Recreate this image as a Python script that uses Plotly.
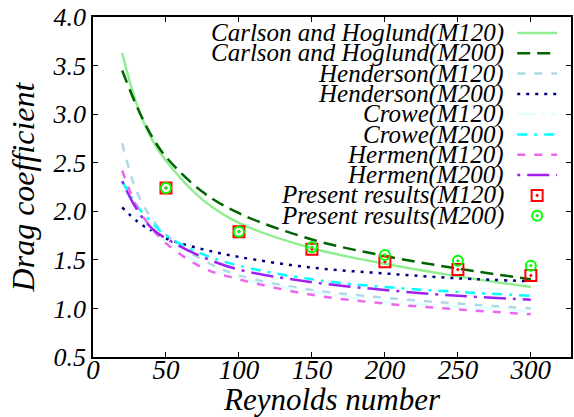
import plotly.graph_objects as go

re_grid = [20, 30, 40, 50, 75, 100, 150, 200, 250, 300]
carlson_m120 = [3.63, 3.10, 2.75, 2.52, 2.12, 1.88, 1.62, 1.46, 1.33, 1.22]
carlson_m200 = [3.45, 3.08, 2.78, 2.56, 2.20, 1.98, 1.71, 1.54, 1.41, 1.30]
henderson_m120 = [2.70, 2.20, 1.93, 1.76, 1.50, 1.34, 1.19, 1.11, 1.05, 1.00]
henderson_m200 = [2.04, 1.90, 1.80, 1.72, 1.61, 1.53, 1.42, 1.36, 1.31, 1.28]
crowe_m120 = [2.30, 2.00, 1.80, 1.68, 1.45, 1.31, 1.17, 1.07, 1.02, 0.97]
crowe_m200 = [2.31, 2.06, 1.89, 1.75, 1.56, 1.44, 1.30, 1.22, 1.17, 1.13]
hermen_m120 = [2.42, 2.05, 1.83, 1.67, 1.42, 1.30, 1.14, 1.05, 0.99, 0.94]
hermen_m200 = [2.31, 2.02, 1.83, 1.72, 1.53, 1.40, 1.27, 1.19, 1.13, 1.09]

re_present = [50, 100, 150, 200, 250, 300]
present_m120 = [2.24, 1.79, 1.61, 1.48, 1.40, 1.34]
present_m200 = [2.24, 1.79, 1.63, 1.55, 1.49, 1.44]

x_ticks = [0, 50, 100, 150, 200, 250, 300]
y_ticks = [0.5, 1.0, 1.5, 2.0, 2.5, 3.0, 3.5, 4.0]

FONT = "Liberation Serif"

lines = [
    ("Carlson and Hoglund(M120)", carlson_m120, "#90ee90", "solid"),
    ("Carlson and Hoglund(M200)", carlson_m200, "#006400", "13px,7px"),
    ("Henderson(M120)", henderson_m120, "#add8e6", "8px,9px"),
    ("Henderson(M200)", henderson_m200, "#000080", "3px,6px"),
    ("Crowe(M120)", crowe_m120, "#e0ffff", "18px,6px,3px,6px"),
    ("Crowe(M200)", crowe_m200, "#00ffff", "10px,7px,3px,7px"),
    ("Hermen(M120)", hermen_m120, "#ee66ee", "8px,9px"),
    ("Hermen(M200)", hermen_m200, "#a020f0", "3px,7px,22px,7px"),
]
markers = [
    ("Present results(M120)", present_m120, "#ff0000", "square-open-dot", 11),
    ("Present results(M200)", present_m200, "#00ff00", "circle-open-dot", 10),
]

fig = go.Figure()
for name, vals, color, dash in lines:
    fig.add_trace(go.Scatter(x=re_grid, y=vals, mode="lines", name=name,
                             line=dict(color=color, width=2.5, dash=dash, shape="spline"),
                             showlegend=False))
for name, vals, color, sym, size in markers:
    fig.add_trace(go.Scatter(x=re_present, y=vals, mode="markers", name=name,
                             marker=dict(color=color, symbol=sym, size=size,
                                         line=dict(color=color, width=2)),
                             showlegend=False))

# manual legend (text on left, sample on right) drawn on an overlay axis
L, R, T, B = 93, 1, 17, 60
W, H = 574, 417
pw, ph = W - L - R, H - T - B
def px2paper(xp, yp):
    return (xp - L) / pw, 1 - (yp - T) / ph

text_right = 508
row0, step = 33, 20.3
annotations = []
all_items = [(n, c, d, None, None) for n, _, c, d in lines] + [(n, c, None, s, z) for n, _, c, s, z in markers]
for i, (name, color, dash, sym, size) in enumerate(all_items):
    yp = row0 + step * i
    tx, ty = px2paper(text_right, yp)
    annotations.append(dict(x=tx, y=ty, xref="paper", yref="paper", text=name, showarrow=False,
                            xanchor="right", yanchor="middle",
                            font=dict(family=FONT, size=25, color="black", style="italic")))
    if dash is not None:
        x0, _ = px2paper(519, yp)
        x1, _ = px2paper(559, yp)
        fig.add_trace(go.Scatter(x=[x0, x1], y=[ty, ty], mode="lines", xaxis="x2", yaxis="y2",
                                 line=dict(color=color, width=2.5, dash=dash), showlegend=False,
                                 hoverinfo="skip"))
    else:
        xm, _ = px2paper(539, yp)
        fig.add_trace(go.Scatter(x=[xm], y=[ty], mode="markers", xaxis="x2", yaxis="y2",
                                 marker=dict(color=color, symbol=sym, size=size,
                                             line=dict(color=color, width=2)),
                                 showlegend=False, hoverinfo="skip"))

axis_common = dict(showline=True, linecolor="black", linewidth=1.5, mirror="ticks",
                   ticks="inside", ticklen=5, tickcolor="black", showgrid=False,
                   zeroline=False)
fig.update_layout(
    width=W, height=H,
    font=dict(family=FONT, style="italic", color="black"),
    margin=dict(l=L, r=R, t=T, b=B),
    paper_bgcolor="white", plot_bgcolor="white",
    xaxis=dict(range=[0, 327.5], tickvals=x_ticks, ticktext=[str(v) for v in x_ticks],
               ticklabelstandoff=-12,
               tickfont=dict(family=FONT, size=27, color="black", style="italic"),
               title=dict(text="Reynolds number", standoff=0,
                          font=dict(family=FONT, size=31, color="black", style="italic")),
               **axis_common),
    yaxis=dict(range=[0.5, 4.0], tickvals=y_ticks, ticktext=[f"{v:.1f}" for v in y_ticks],
               tickfont=dict(family=FONT, size=26, color="black", style="italic"),
               title=dict(text="Drag coefficient", standoff=8,
                          font=dict(family=FONT, size=32, color="black", style="italic")),
               **axis_common),
    xaxis2=dict(range=[0, 1], overlaying="x", visible=False, fixedrange=True),
    yaxis2=dict(range=[0, 1], overlaying="y", visible=False, fixedrange=True),
    annotations=annotations,
    showlegend=False,
)
fig.write_html("out.html")
